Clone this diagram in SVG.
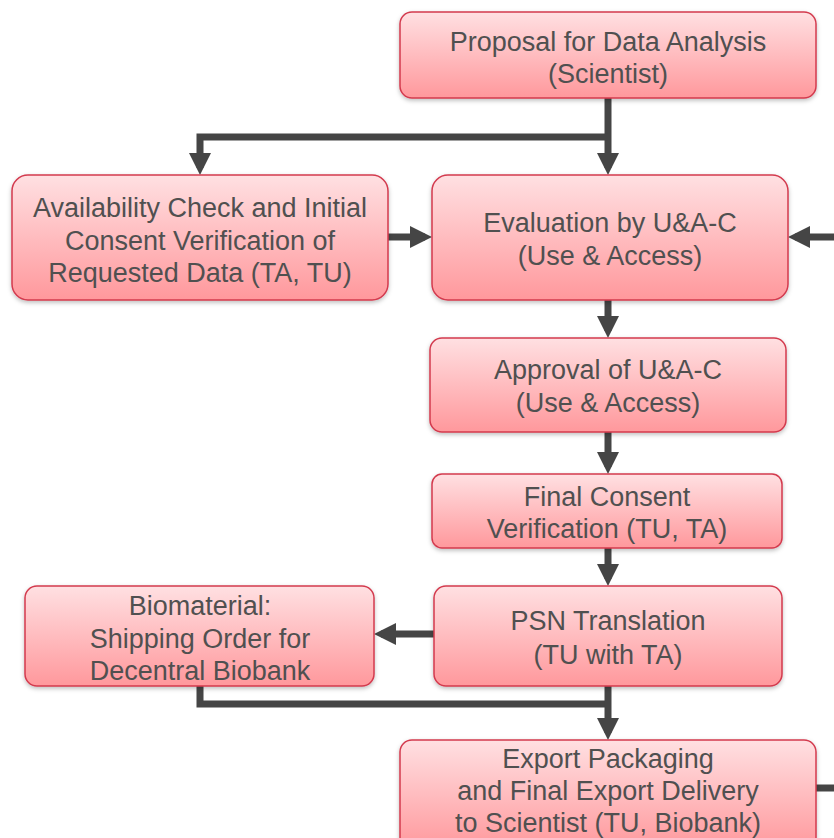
<svg xmlns="http://www.w3.org/2000/svg" width="834" height="838" viewBox="0 0 834 838">
<defs>
<linearGradient id="g" x1="0" y1="0" x2="0" y2="1">
<stop offset="0" stop-color="#ffe0e2"/>
<stop offset="1" stop-color="#ff989c"/>
</linearGradient>
<filter id="sh" x="-5%" y="-5%" width="110%" height="120%">
<feDropShadow dx="0" dy="2" stdDeviation="2" flood-color="#000" flood-opacity="0.25"/>
</filter>
<marker id="ah" markerWidth="3.2" markerHeight="3.2" refX="2.2" refY="1.6" orient="auto" markerUnits="strokeWidth">
<path d="M0,0 L3.2,1.6 L0,3.2 z" fill="#454545"/>
</marker>
</defs>
<style>
.box{fill:url(#g);stroke:#d33a4e;stroke-width:1.5;filter:url(#sh)}
.t{font-family:"Liberation Sans",Arial,sans-serif;font-size:27px;fill:#505050;text-anchor:middle}
.c{fill:none;stroke:#454545;stroke-width:7}
</style>
<rect width="834" height="838" fill="#fff"/>
<g id="connectors">
<path class="c" d="M608,98 V168" marker-end="url(#ah)"/>
<path class="c" d="M608,137 H200 V168" marker-end="url(#ah)"/>
<path class="c" d="M388,237 H425" marker-end="url(#ah)"/>
<path class="c" d="M834,237 H795" marker-end="url(#ah)"/>
<path class="c" d="M608,300 V331" marker-end="url(#ah)"/>
<path class="c" d="M608,432 V467" marker-end="url(#ah)"/>
<path class="c" d="M608,548 V579" marker-end="url(#ah)"/>
<path class="c" d="M434,634 H381" marker-end="url(#ah)"/>
<path class="c" d="M200,686 V704 H608"/>
<path class="c" d="M608,686 V733" marker-end="url(#ah)"/>
<path class="c" d="M816,788 H834"/>
</g>
<g id="proposal">
<rect class="box" x="400" y="12" width="416" height="86" rx="12"/>
<text class="t" x="608" y="51">Proposal for Data Analysis</text>
<text class="t" x="608" y="83">(Scientist)</text>
</g>
<g id="availability">
<rect class="box" x="12" y="175" width="376" height="125" rx="16"/>
<text class="t" x="200" y="217">Availability Check and Initial</text>
<text class="t" x="200" y="250">Consent Verification of</text>
<text class="t" x="200" y="282">Requested Data (TA, TU)</text>
</g>
<g id="evaluation">
<rect class="box" x="432" y="175" width="356" height="125" rx="16"/>
<text class="t" x="610" y="232">Evaluation by U&amp;A-C</text>
<text class="t" x="610" y="265">(Use &amp; Access)</text>
</g>
<g id="approval">
<rect class="box" x="430" y="338" width="356" height="94" rx="12"/>
<text class="t" x="608" y="379">Approval of U&amp;A-C</text>
<text class="t" x="608" y="412">(Use &amp; Access)</text>
</g>
<g id="final-consent">
<rect class="box" x="432" y="474" width="350" height="74" rx="10"/>
<text class="t" x="607" y="506">Final Consent</text>
<text class="t" x="607" y="538">Verification (TU, TA)</text>
</g>
<g id="psn">
<rect class="box" x="434" y="586" width="348" height="100" rx="12"/>
<text class="t" x="608" y="630">PSN Translation</text>
<text class="t" x="608" y="664">(TU with TA)</text>
</g>
<g id="biomaterial">
<rect class="box" x="25" y="586" width="349" height="100" rx="12"/>
<text class="t" x="200" y="615">Biomaterial:</text>
<text class="t" x="200" y="648">Shipping Order for</text>
<text class="t" x="200" y="680">Decentral Biobank</text>
</g>
<g id="export">
<rect class="box" x="400" y="740" width="416" height="110" rx="12"/>
<text class="t" x="608" y="768">Export Packaging</text>
<text class="t" x="608" y="800">and Final Export Delivery</text>
<text class="t" x="608" y="832">to Scientist (TU, Biobank)</text>
</g>
</svg>
